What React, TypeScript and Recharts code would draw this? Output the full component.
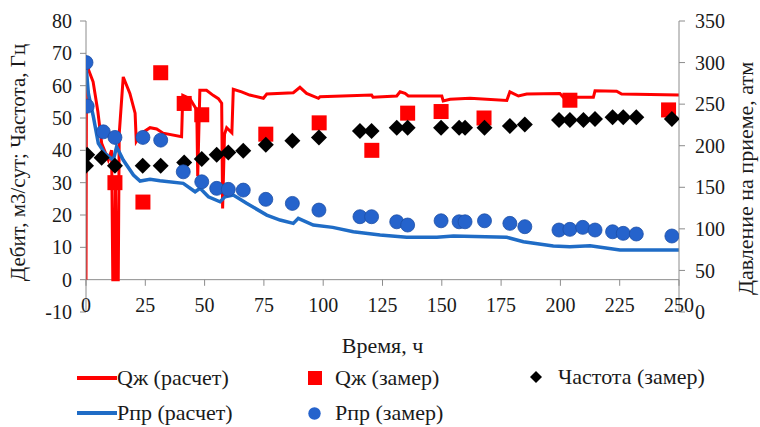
import React from "react";
import {
  ComposedChart,
  Line,
  Scatter,
  XAxis,
  YAxis,
  ReferenceLine,
} from "recharts";

// Qж (расчет): time, rate
const qCalcT = [0, 0.2, 1, 3, 5, 6.6, 9.4, 10.8, 11.3, 12, 12.4, 12.8, 13.6, 14, 15.7, 18.5, 20.7, 21.2, 23.5, 27, 29.8, 32.5, 40.3, 40.8, 43.8, 46.7, 47.1, 48, 50.8, 53.6, 55.8, 57.2, 57.6, 58.4, 59.3, 61.5, 62.1, 65.6, 69, 74.8, 76.2, 87.4, 90.2, 93, 98, 98.7, 120.4, 121, 131, 132.4, 134.5, 135.9, 150, 150.6, 153.5, 161.9, 177.4, 178.7, 182.3, 185.8, 199.8, 201.2, 213.9, 214.6, 223.7, 225.8, 250];
const qCalcV = [0, 66, 65, 61.2, 52, 42.2, 37, 40, 0, 0, 30, 0, 0, 45, 62.7, 57.6, 51.5, 42.7, 45.3, 47, 46.6, 45.3, 44.2, 57, 56, 52.5, 32, 58.6, 58.6, 57, 56, 54.6, 22, 45, 47, 45.4, 58.9, 58.1, 57.1, 56.1, 57.4, 57.8, 59.5, 57.6, 56.1, 56.6, 57.1, 56.4, 56.8, 58.1, 57.6, 56.8, 56.8, 55.3, 55.8, 56.1, 55.4, 58.1, 56.8, 57.4, 57.6, 56.4, 56.4, 58.4, 58.3, 57.4, 57.1];

// Рпр (расчет): time, pressure
const pCalcT = [0, 1, 3.1, 5.2, 8, 11.5, 12.9, 15.7, 20, 22.8, 27, 31.2, 41, 46, 48.1, 51.6, 56.5, 58.6, 62.1, 67.7, 76.2, 81.8, 87.4, 89.5, 95.8, 104, 112.7, 124, 135.2, 147.9, 154.9, 177.4, 184.4, 197, 204, 212.5, 225.1, 250];
const pCalcV = [297, 263, 235, 203, 190.7, 182.7, 198.7, 182.7, 164.7, 157.5, 159.5, 157.8, 154.7, 144.6, 148.7, 138.6, 132.6, 138.6, 140.6, 130.7, 116.6, 110.6, 106.6, 112.6, 104.6, 101.8, 96.5, 92.6, 89.8, 89.8, 91.4, 89.8, 84.5, 79.3, 78.5, 79.7, 74.5, 74.5];

// Qж (замер)
const qMeasT = [12.2, 24, 31.5, 41.4, 48.8, 75.8, 98.3, 120.5, 135.6, 149.7, 167.8, 204, 245.6];
const qMeasV = [30, 24, 64, 54.5, 51, 45, 48.5, 40, 51.5, 52, 50, 55.5, 52.5];

// Частота (замер)
const freqT = [0, 0.5, 6.6, 12.2, 23.9, 31.5, 41.4, 48.8, 55.1, 60, 66.3, 75.8, 87, 98.2, 115.5, 120.4, 131, 135.6, 149.7, 157.3, 159.8, 168, 178.7, 185, 199.4, 204, 209.7, 214.6, 222, 226.5, 232, 247];
const freqV = [35.2, 38.6, 37.7, 35.2, 35.2, 35.2, 36.2, 37.3, 38.6, 39.3, 39.9, 41.7, 43, 44, 46, 46, 47, 47, 47, 47, 47, 47, 47.5, 48, 49.4, 49.4, 49.4, 49.7, 50.2, 50.2, 50.2, 49.7];

// Рпр (замер)
const pMeasT = [0, 0.5, 7.3, 12.2, 24, 31.5, 41, 48.8, 55.1, 60, 66.3, 75.8, 87, 98.2, 115.5, 120.4, 131, 135.6, 149.7, 157.3, 159.8, 168, 178.7, 185, 199.4, 204, 209.4, 214.6, 222, 226.5, 232, 247];
const pMeasV = [300, 247.6, 216.7, 210, 210, 206.7, 168.6, 156.6, 148.7, 147.5, 146.6, 135.5, 130.6, 122.6, 114.6, 114.6, 108.5, 104.6, 109.7, 108.5, 108.5, 109.7, 106.6, 102.6, 98.6, 99.4, 101.8, 98.6, 96.5, 94.6, 93.8, 91.4];

const xTicks = [0, 25, 50, 75, 100, 125, 150, 175, 200, 225, 250];
const leftTicks = [-10, 0, 10, 20, 30, 40, 50, 60, 70, 80];
const rightTicks = [0, 50, 100, 150, 200, 250, 300, 350];

const zip = (t: number[], v: number[]) => t.map((x, i) => ({ t: x, v: v[i] }));

const RED = "#ff0000";
const BLUE = "#1f6cc6";
const DOT = "#2563cc";
const AXIS = "#8c8c8c";
const TEXT = "#1a1a1a";
const FONT = "'Times New Roman', Tinos, 'Liberation Serif', 'Noto Serif', 'DejaVu Serif', FreeSerif, serif";

const Square = (p: any) => (
  <rect x={p.cx - 7.5} y={p.cy - 7.5} width={15} height={15} fill={RED} />
);
const Diamond = (p: any) => (
  <polygon
    points={`${p.cx},${p.cy - 8} ${p.cx + 8},${p.cy} ${p.cx},${p.cy + 8} ${p.cx - 8},${p.cy}`}
    fill="#000"
  />
);
const Dot = (p: any) => (
  <circle cx={p.cx} cy={p.cy} r={7} fill={DOT} stroke="#1d4fa6" strokeWidth={0.8} />
);

const XTick = ({ x, y, payload }: any) => (
  <text x={x} y={y - 7} textAnchor="middle" dominantBaseline="central" fontSize={20} fill={TEXT} style={{ fontFamily: FONT }}>
    {payload.value}
  </text>
);

function LegendBox() {
  const row = { position: "absolute" as const, display: "flex", alignItems: "center", fontSize: 22, color: TEXT, fontFamily: FONT, lineHeight: "22px", height: 22 };
  return (
    <div style={{ position: "absolute", left: 0, top: 0, width: 760, height: 427, pointerEvents: "none" }}>
      <div style={{ ...row, left: 77, top: 367 }}>
        <span style={{ width: 40, height: 4, background: RED, display: "inline-block" }} />
        <span>Qж (расчет)</span>
      </div>
      <div style={{ ...row, left: 308, top: 367 }}>
        <span style={{ width: 14, height: 14, background: RED, display: "inline-block" }} />
        <span style={{ marginLeft: 13 }}>Qж (замер)</span>
      </div>
      <div style={{ ...row, left: 530, top: 366 }}>
        <svg width={12} height={12}><polygon points="6,0 12,6 6,12 0,6" fill="#000" /></svg>
        <span style={{ marginLeft: 16 }}>Частота (замер)</span>
      </div>
      <div style={{ ...row, left: 77, top: 402 }}>
        <span style={{ width: 40, height: 4, background: BLUE, display: "inline-block" }} />
        <span>Рпр (расчет)</span>
      </div>
      <div style={{ ...row, left: 308, top: 402 }}>
        <svg width={13} height={13}><circle cx={6.5} cy={6.5} r={6.2} fill={DOT} /></svg>
        <span style={{ marginLeft: 14 }}>Рпр (замер)</span>
      </div>
    </div>
  );
}

export default function App() {
  const tickStyle = { fontSize: 20, fill: TEXT, style: { fontFamily: FONT } };
  return (
    <div style={{ position: "absolute", left: 0, top: 0, width: 760, height: 427, background: "#fff", fontFamily: FONT }}>
      <ComposedChart width={760} height={427} margin={{ top: 21, right: 0, bottom: 0, left: 0 }} style={{ fontFamily: FONT }}>
        <XAxis
          type="number"
          dataKey="t"
          domain={[0, 250]}
          ticks={xTicks}
          allowDataOverflow
          axisLine={false}
          tickLine={false}
          tickSize={0}
          tickMargin={0}
          height={115}
          tick={<XTick />}
          label={{
            content: ({ viewBox }: any) => (
              <text x={viewBox.x + viewBox.width / 2} y={viewBox.y + 33} textAnchor="middle" dominantBaseline="central" fontSize={22} fill={TEXT} style={{ fontFamily: FONT }}>
                Время, ч
              </text>
            ),
          }}
        />
        <YAxis
          yAxisId="left"
          type="number"
          domain={[-10, 80]}
          ticks={leftTicks}
          width={86}
          stroke={AXIS}
          tick={tickStyle}
          tickSize={6}
          tickMargin={8}
          label={{
            content: ({ viewBox }: any) => {
              const cx = viewBox.x + 18;
              const cy = viewBox.y + viewBox.height / 2 - 4;
              return (
                <text x={cx} y={cy} transform={`rotate(-90 ${cx} ${cy})`} textAnchor="middle" dominantBaseline="central" fontSize={21} fill={TEXT} style={{ fontFamily: FONT }}>
                  Дебит, м3/сут; Частота, Гц
                </text>
              );
            },
          }}
        />
        <YAxis
          yAxisId="right"
          orientation="right"
          type="number"
          domain={[0, 350]}
          ticks={rightTicks}
          width={81}
          stroke={AXIS}
          tick={{ ...tickStyle, textAnchor: "start" }}
          tickSize={6}
          tickMargin={10}
          label={{
            content: ({ viewBox }: any) => {
              const cx = viewBox.x + viewBox.width - 15;
              const cy = viewBox.y + viewBox.height / 2 + 12;
              return (
                <text x={cx} y={cy} transform={`rotate(-90 ${cx} ${cy})`} textAnchor="middle" dominantBaseline="central" fontSize={22} fill={TEXT} style={{ fontFamily: FONT }}>
                  Давление на приеме, атм
                </text>
              );
            },
          }}
        />
        <ReferenceLine yAxisId="left" y={0} stroke={AXIS} strokeWidth={1} />
        {xTicks.map((t) => (
          <ReferenceLine
            key={t}
            yAxisId="left"
            segment={[{ x: t, y: 0 }, { x: t, y: -1.9 }]}
            stroke={AXIS}
          />
        ))}
        <Line
          yAxisId="left"
          data={zip(qCalcT, qCalcV)}
          dataKey="v"
          type="linear"
          stroke={RED}
          strokeWidth={3}
          dot={false}
          isAnimationActive={false}
        />
        <Line
          yAxisId="right"
          data={zip(pCalcT, pCalcV)}
          dataKey="v"
          type="linear"
          stroke={BLUE}
          strokeWidth={3.5}
          dot={false}
          isAnimationActive={false}
        />
        <Scatter yAxisId="left" data={zip(qMeasT, qMeasV)} dataKey="v" shape={Square} isAnimationActive={false} />
        <Scatter yAxisId="left" data={zip(freqT, freqV)} dataKey="v" shape={Diamond} isAnimationActive={false} />
        <Scatter yAxisId="right" data={zip(pMeasT, pMeasV)} dataKey="v" shape={Dot} isAnimationActive={false} />
      </ComposedChart>
      <LegendBox />
    </div>
  );
}
